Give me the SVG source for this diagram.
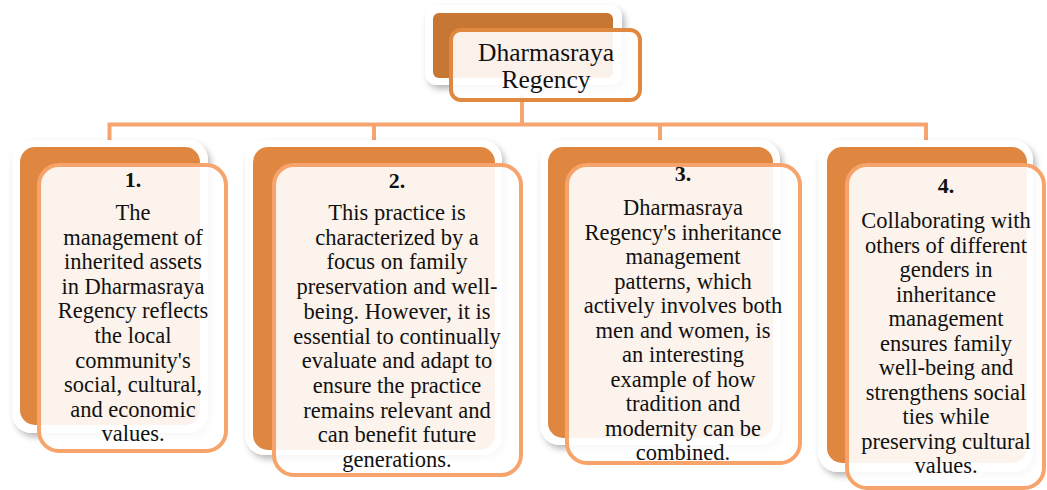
<svg xmlns="http://www.w3.org/2000/svg" width="1047" height="490" viewBox="0 0 1047 490">
<defs>
<filter id="sh" x="-10%" y="-10%" width="130%" height="130%">
<feDropShadow dx="3" dy="4" stdDeviation="3" flood-color="#000" flood-opacity="0.28"/>
</filter>
<style>
.frame{fill:#fff;filter:url(#sh)}
.back{fill:#DF8740}
.backTop{fill:#C87634}
.front{fill:#fff;fill-opacity:0.9;stroke:#F6A46C;stroke-width:4}
.frontTop{fill:#fff;fill-opacity:0.9;stroke:#E0883F;stroke-width:4}
.conn{fill:none;stroke:#F6A56E;stroke-width:4}
text{font-family:"Liberation Serif","Times New Roman",serif;fill:#111;text-anchor:middle}
.body{font-size:22.5px}
.num{font-size:22px;font-weight:bold}
.title{font-size:25.5px}
</style>
</defs>
<g id="connectors">
<path class="conn" d="M522,95 V124.5"/>
<path class="conn" d="M109.5,150 V124.5 H926 V150"/>
<path class="conn" d="M374,124.5 V150"/>
<path class="conn" d="M660,124.5 V150"/>
</g>
<g id="node-top">
<rect class="frame" x="425" y="5" width="197" height="80" rx="12"/>
<rect class="backTop" x="433" y="13" width="180" height="65" rx="6"/>
<rect class="frontTop" x="451" y="30" width="189" height="70" rx="10"/>
<text class="title" x="546" y="61">Dharmasraya</text>
<text class="title" x="546" y="88">Regency</text>
</g>
<g id="node-1">
<rect class="frame" x="12" y="140" width="196" height="293" rx="20"/>
<rect class="back" x="20" y="147" width="180" height="278" rx="15"/>
<rect class="front" x="39" y="165" width="187" height="286" rx="20"/>
<text class="num" x="133" y="187">1.</text>
<text class="body" x="133" y="220">The</text>
<text class="body" x="133" y="244.6">management of</text>
<text class="body" x="133" y="269.2">inherited assets</text>
<text class="body" x="133" y="293.8">in Dharmasraya</text>
<text class="body" x="133" y="318.4">Regency reflects</text>
<text class="body" x="133" y="343">the local</text>
<text class="body" x="133" y="367.6">community's</text>
<text class="body" x="133" y="392.2">social, cultural,</text>
<text class="body" x="133" y="416.8">and economic</text>
<text class="body" x="133" y="441.4">values.</text>
</g>
<g id="node-2">
<rect class="frame" x="245" y="140" width="257" height="315" rx="20"/>
<rect class="back" x="253" y="147" width="242" height="303" rx="15"/>
<rect class="front" x="274" y="165" width="247" height="310" rx="20"/>
<text class="num" x="397" y="188">2.</text>
<text class="body" x="397" y="220">This practice is</text>
<text class="body" x="397" y="244.7">characterized by a</text>
<text class="body" x="397" y="269.4">focus on family</text>
<text class="body" x="397" y="294.1">preservation and well-</text>
<text class="body" x="397" y="318.8">being. However, it is</text>
<text class="body" x="397" y="343.5">essential to continually</text>
<text class="body" x="397" y="368.2">evaluate and adapt to</text>
<text class="body" x="397" y="392.9">ensure the practice</text>
<text class="body" x="397" y="417.6">remains relevant and</text>
<text class="body" x="397" y="442.3">can benefit future</text>
<text class="body" x="397" y="467">generations.</text>
</g>
<g id="node-3">
<rect class="frame" x="540" y="140" width="240" height="305" rx="20"/>
<rect class="back" x="548" y="147" width="225" height="291" rx="15"/>
<rect class="front" x="567" y="165" width="233" height="298" rx="20"/>
<text class="num" x="683" y="181">3.</text>
<text class="body" x="683" y="215">Dharmasraya</text>
<text class="body" x="683" y="239.5">Regency's inheritance</text>
<text class="body" x="683" y="264">management</text>
<text class="body" x="683" y="288.5">patterns, which</text>
<text class="body" x="683" y="313">actively involves both</text>
<text class="body" x="683" y="337.5">men and women, is</text>
<text class="body" x="683" y="362">an interesting</text>
<text class="body" x="683" y="386.5">example of how</text>
<text class="body" x="683" y="411">tradition and</text>
<text class="body" x="683" y="435.5">modernity can be</text>
<text class="body" x="683" y="460">combined.</text>
</g>
<g id="node-4">
<rect class="frame" x="818" y="140" width="215" height="332" rx="20"/>
<rect class="back" x="827" y="147" width="200" height="316" rx="15"/>
<rect class="front" x="847" y="165" width="197" height="323" rx="20"/>
<text class="num" x="946" y="193">4.</text>
<text class="body" x="946" y="228">Collaborating with</text>
<text class="body" x="946" y="252.5">others of different</text>
<text class="body" x="946" y="277">genders in</text>
<text class="body" x="946" y="301.5">inheritance</text>
<text class="body" x="946" y="326">management</text>
<text class="body" x="946" y="350.5">ensures family</text>
<text class="body" x="946" y="375">well-being and</text>
<text class="body" x="946" y="399.5">strengthens social</text>
<text class="body" x="946" y="424">ties while</text>
<text class="body" x="946" y="448.5">preserving cultural</text>
<text class="body" x="946" y="473">values.</text>
</g>
</svg>
